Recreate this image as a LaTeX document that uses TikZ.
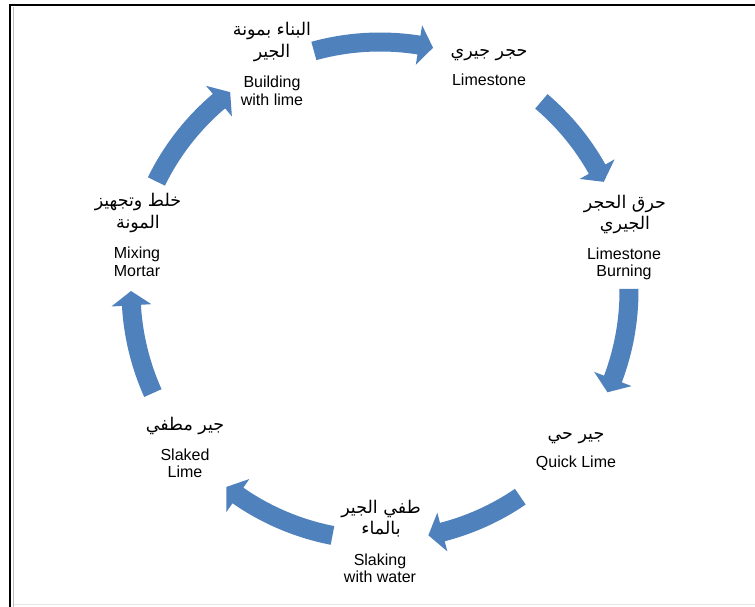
\documentclass[tikz,border=0pt]{standalone}
\usepackage{fontspec}
\setmainfont{Liberation Sans}
\newfontfamily\arabicfont[Script=Arabic]{DejaVu Sans}
\TeXXeTstate=1
\definecolor{cycblue}{RGB}{79,129,189}
\definecolor{framegray}{RGB}{190,190,190}
\newcommand\cycarrow[2]{%
  \fill[cycblue]
    ([shift={(#1:258.5pt)}]c) arc[start angle=#1, end angle=#2+3.3, radius=258.5pt]
    -- ([shift={(#2+3.3:269pt)}]c)
    -- ([shift={(#2:249pt)}]c)
    -- ([shift={(#2+3.3:229pt)}]c)
    -- ([shift={(#2+3.3:239.5pt)}]c)
    arc[start angle=#2+3.3, end angle=#1, radius=239.5pt]
    -- cycle;}
\begin{document}
\begin{tikzpicture}[x=1pt,y=1pt,
  en/.style={anchor=base, inner sep=0pt, font=\fontsize{16}{18}\selectfont},
  ar/.style={anchor=base, inner sep=0pt, font=\arabicfont\fontsize{17.5}{20}\selectfont}]
\useasboundingbox (0,0) rectangle (755,-607);
\fill[white] (0,0) rectangle (755,-607);
% frame
\draw[line width=2pt] (10,-607) -- (10,-5) -- (755,-5);
\draw[framegray, line width=1pt] (13,-7) -- (13,-607);
\draw[black!10, line width=1pt] (14,-604.5) -- (755,-604.5);
% centre of the cycle
\coordinate (c) at (380,-291);
% arrows
\cycarrow{105.4}{77.7}
\cycarrow{49.6}{26.0}
\cycarrow{0.5}{-24.0}
\cycarrow{-55.7}{-78.8}
\cycarrow{-101}{-128.1}
\cycarrow{-155.8}{-180}
\cycarrow{153.9}{127}
% Building with lime
\node[ar] (b1) at (272,-36) {\beginR البناء بمونة\endR};
\node[ar] (b2) at (272,-58) {\beginR الجير\endR};
\node[en] (b3) at (272,-88) {Building};
\node[en] (b4) at (272,-106) {with lime};
% Limestone
\node[ar] (l1) at (489,-57) {\beginR حجر جيري\endR};
\node[en] (l2) at (489,-86) {Limestone};
% Limestone burning
\node[ar] (r1) at (625,-208) {\beginR حرق الحجر\endR};
\node[ar] (r2) at (625,-229) {\beginR الجيري\endR};
\node[en] (r3) at (624,-259) {Limestone};
\node[en] (r4) at (624,-276) {Burning};
% Quick lime
\node[ar] (q1) at (576,-439) {\beginR جير حي\endR};
\node[en] (q2) at (576,-467) {Quick Lime};
% Slaking with water
\node[ar] (s1) at (381,-513) {\beginR طفي الجير\endR};
\node[ar] (s2) at (381,-534) {\beginR بالماء\endR};
\node[en] (s3) at (380,-565) {Slaking};
\node[en] (s4) at (380,-582) {with water};
% Slaked lime
\node[ar] (k1) at (185,-430) {\beginR جير مطفي\endR};
\node[en] (k2) at (185,-460) {Slaked};
\node[en] (k3) at (185,-477) {Lime};
% Mixing mortar
\node[ar] (m1) at (138,-206) {\beginR خلط وتجهيز\endR};
\node[ar] (m2) at (138,-228) {\beginR المونة\endR};
\node[en] (m3) at (137,-258) {Mixing};
\node[en] (m4) at (137,-276) {Mortar};
\end{tikzpicture}
\end{document}
